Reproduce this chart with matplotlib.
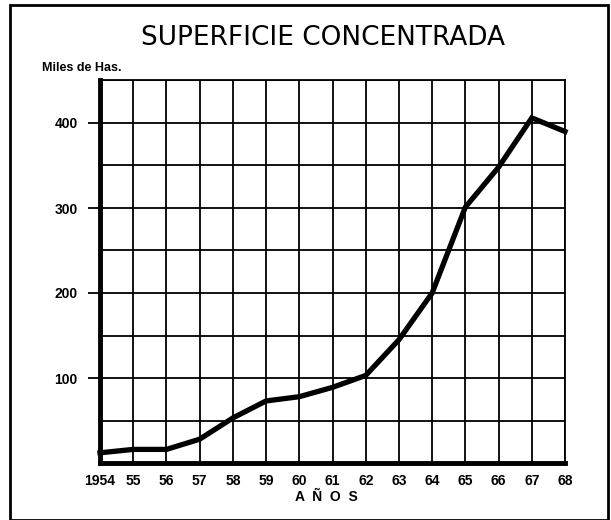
import matplotlib
matplotlib.use("Agg")
import matplotlib.pyplot as plt
from matplotlib.patches import Rectangle

years = [1954, 1955, 1956, 1957, 1958, 1959, 1960, 1961, 1962, 1963, 1964, 1965, 1966, 1967, 1968]
values = [12, 16, 16, 28, 53, 73, 78, 89, 103, 145, 200, 301, 348, 406, 390]
xtick_labels = ["1954", "55", "56", "57", "58", "59", "60", "61", "62", "63", "64", "65", "66", "67", "68"]
ytick_values = [100, 200, 300, 400]

W, H = 611, 520
fig = plt.figure(figsize=(W / 100, H / 100), dpi=100)
fig.patch.set_facecolor("white")

# outer frame
fig.patches.append(Rectangle((10 / W, 0.0), (608 - 10) / W, (515 - 0) / H,
                             transform=fig.transFigure, fill=False,
                             edgecolor="black", linewidth=2.0))

ax = fig.add_axes([100 / W, (H - 463) / H, (565 - 100) / W, (463 - 80.5) / H])
ax.set_xlim(1954, 1968)
ax.set_ylim(0, 450)

# grid
for yr in years:
    ax.axvline(yr, color="black", lw=1.3, zorder=1)
for v in range(50, 451, 50):
    ax.axhline(v, color="black", lw=1.3, zorder=1)

ax.plot(years, values, color="black", lw=3.8, solid_joinstyle="miter", zorder=3, clip_on=False)

for s in ["left", "bottom"]:
    ax.spines[s].set_linewidth(3.5)
for s in ["top", "right"]:
    ax.spines[s].set_linewidth(1.3)

lab_font = ["Liberation Sans", "DejaVu Sans"]
ax.set_xticks(years)
ax.set_xticklabels(xtick_labels, fontsize=10, fontweight="bold", family=lab_font)
ax.set_yticks(ytick_values)
ax.set_yticklabels([str(v) for v in ytick_values], fontsize=10, fontweight="bold", family=lab_font)
ax.tick_params(axis="x", length=0, pad=8)
ax.tick_params(axis="y", length=9, width=1.3, pad=7)

fig.text(323 / W, 1 - 38 / H, "SUPERFICIE CONCENTRADA", ha="center", va="center",
         fontsize=19, family="DejaVu Sans")
fig.text(42 / W, 1 - 68 / H, "Miles de Has.", ha="left", va="center",
         fontsize=9, fontweight="bold", family=lab_font)
fig.text(326 / W, 1 - 497 / H, "A  Ñ  O  S", ha="center", va="center",
         fontsize=10, fontweight="bold", family=lab_font)

fig.savefig("out.png", dpi=100, facecolor="white")
